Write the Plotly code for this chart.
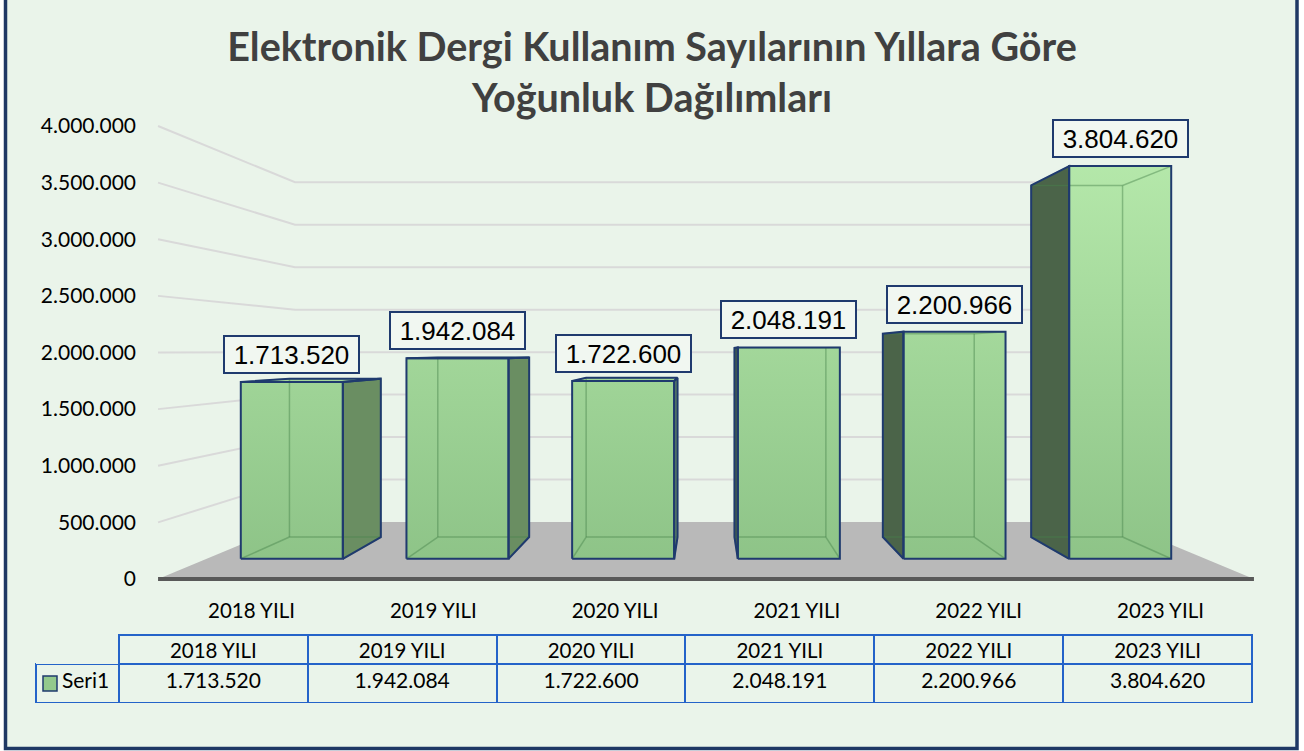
import plotly.graph_objects as go

# ---------------- data ----------------
title_lines = ["Elektronik Dergi Kullanım Sayılarının Yıllara Göre", "Yoğunluk Dağılımları"]
categories = ["2018 YILI", "2019 YILI", "2020 YILI", "2021 YILI", "2022 YILI", "2023 YILI"]
values = [1713520, 1942084, 1722600, 2048191, 2200966, 3804620]
y_ticks = [0, 500000, 1000000, 1500000, 2000000, 2500000, 3000000, 3500000, 4000000]
series_name = "Seri1"


def fmt(v):
    return f"{v:,}".replace(",", ".")


# ---------------- style / geometry ----------------
W, H = 1304, 751
BG = "#eaf4ea"
NAVY = "#1f3a6e"
TABLE_BLUE = "#2463c9"
GRID = "#d9d9d9"
FLOOR = "#b9b9b9"
FLOOR_EDGE = "#595959"
SIDE_RIGHT = "#6a8e62"
SIDE_LEFT = "#4b6449"
TOP_FACE = "#a4d69a"
HIDDEN = "rgba(70,130,75,0.45)"

CAT_PX = 181.8         # px per category on the front plane
CAT0_PX = 251.5        # px of first category
Y_PX_PER_UNIT = 113.25e-6
Y0_PX = 579.0

x_range = [(0 - CAT0_PX) / CAT_PX, (W - CAT0_PX) / CAT_PX]
y_range = [-(H - Y0_PX) / Y_PX_PER_UNIT, Y0_PX / Y_PX_PER_UNIT]

n = len(categories)
VX = (n - 1) / 2.0               # vanishing point (category units)
VY = (Y0_PX - 351.0) / Y_PX_PER_UNIT  # vanishing point (value units)
S_BAR_F, S_BAR_B, S_BACK = 0.9113, 0.816, 0.75
HALF_W = 0.308
EXT = 0.514


def proj(x, v, s):
    return VX + s * (x - VX), VY + s * (v - VY)


def poly(points):
    xs = [p[0] for p in points] + [points[0][0]]
    ys = [p[1] for p in points] + [points[0][1]]
    return xs, ys


fig = go.Figure()

# floor
fl = [proj(-EXT, 0, 1), proj(n - 1 + EXT, 0, 1), proj(n - 1 + EXT, 0, S_BACK), proj(-EXT, 0, S_BACK)]
xs, ys = poly(fl)
fig.add_trace(go.Scatter(x=xs, y=ys, mode="lines", fill="toself", fillcolor=FLOOR,
                         line=dict(width=0, color=FLOOR), hoverinfo="skip", showlegend=False))
a, b = proj(-EXT, 0, 1), proj(n - 1 + EXT, 0, 1)
fig.add_trace(go.Scatter(x=[a[0], b[0]], y=[a[1], b[1]], mode="lines",
                         line=dict(width=4, color=FLOOR_EDGE), hoverinfo="skip", showlegend=False))

# gridlines (side wall + back wall)
gx, gy = [], []
for v in y_ticks[1:]:
    for p in (proj(-EXT, v, 1), proj(-EXT, v, S_BACK), proj(n - 1 + EXT, v, S_BACK)):
        gx.append(p[0]); gy.append(p[1])
    gx.append(None); gy.append(None)
fig.add_trace(go.Scatter(x=gx, y=gy, mode="lines", line=dict(width=2, color=GRID),
                         hoverinfo="skip", showlegend=False))

# bars
annotations = []
for i, v in enumerate(values):
    xl, xr = i - HALF_W, i + HALF_W
    F = {k: proj(x, val, S_BAR_F) for k, (x, val) in
         {"lb": (xl, 0), "rb": (xr, 0), "rt": (xr, v), "lt": (xl, v)}.items()}
    B = {k: proj(x, val, S_BAR_B) for k, (x, val) in
         {"lb": (xl, 0), "rb": (xr, 0), "rt": (xr, v), "lt": (xl, v)}.items()}
    outlines = []
    # side face
    if i < VX:
        side = [F["rb"], B["rb"], B["rt"], F["rt"]]
        scol = SIDE_RIGHT
    else:
        side = [F["lb"], B["lb"], B["lt"], F["lt"]]
        scol = SIDE_LEFT
    xs, ys = poly(side)
    fig.add_trace(go.Scatter(x=xs, y=ys, mode="lines", fill="toself", fillcolor=scol,
                             line=dict(width=0, color=scol), hoverinfo="skip", showlegend=False))
    outlines.append(side)
    # top face (visible when below eye level)
    if v < VY:
        top = [F["lt"], F["rt"], B["rt"], B["lt"]]
        xs, ys = poly(top)
        fig.add_trace(go.Scatter(x=xs, y=ys, mode="lines", fill="toself", fillcolor=TOP_FACE,
                                 line=dict(width=0, color=TOP_FACE), hoverinfo="skip", showlegend=False))
        outlines.append(top)
    # front face
    front = [F["lb"], F["rb"], F["rt"], F["lt"]]
    xs, ys = poly(front)
    fig.add_trace(go.Scatter(x=xs, y=ys, mode="lines", fill="toself",
                             fillgradient=dict(type="vertical", start=0, stop=4000000,
                                               colorscale=[[0, "#8cc286"], [1, "#b8ebad"]]),
                             line=dict(width=0, color="#8cc286"), hoverinfo="skip", showlegend=False))
    outlines.append(front)
    # hidden edges seen through the glass-like front
    hx, hy = [], []
    for seg in [("lb", "rb"), ("rb", "rt"), ("rt", "lt"), ("lt", "lb")]:
        hx += [B[seg[0]][0], B[seg[1]][0], None]; hy += [B[seg[0]][1], B[seg[1]][1], None]
    for k in ("lb", "rb", "rt", "lt"):
        hx += [F[k][0], B[k][0], None]; hy += [F[k][1], B[k][1], None]
    fig.add_trace(go.Scatter(x=hx, y=hy, mode="lines", line=dict(width=1.5, color=HIDDEN),
                             hoverinfo="skip", showlegend=False))
    # visible outlines
    ox, oy = [], []
    for pl in outlines:
        xs, ys = poly(pl)
        ox += xs + [None]; oy += ys + [None]
    fig.add_trace(go.Scatter(x=ox, y=oy, mode="lines", line=dict(width=2, color=NAVY),
                             hoverinfo="skip", showlegend=False))
    # data label
    lx, ly = proj(i, v, S_BAR_F)
    annotations.append(dict(x=lx, y=ly, xref="x", yref="y", text=fmt(v), showarrow=False,
                            yanchor="bottom", xanchor="center", yshift=8,
                            font=dict(family="Liberation Sans, Arial", size=26, color="#000000"),
                            bgcolor="#f1f7f1", bordercolor=NAVY, borderwidth=2, borderpad=0,
                            width=133, height=35))

# data table
fig.add_trace(go.Table(
    domain=dict(x=[36 / W, 1252 / W], y=[1 - 703 / H, 1 - 635 / H]),
    columnwidth=[83] + [189] * n,
    header=dict(values=[""] + categories, height=29, fill_color=BG,
                line=dict(color=["rgba(0,0,0,0)"] + [TABLE_BLUE] * n, width=2),
                font=dict(family="Lato", size=20.5, color="#000000"), align="center"),
    cells=dict(values=[["\u00a0\u00a0\u00a0" + series_name]] + [[fmt(v)] for v in values], height=39,
               fill_color=BG, line=dict(color=TABLE_BLUE, width=2),
               font=dict(family="Lato", size=21, color="#000000"), align="center"),
))

shapes = [
    dict(type="rect", xref="paper", yref="paper", x0=5.5 / W, x1=1297 / W, y0=1 - 748.5 / H, y1=1.02,
         fillcolor=BG, line=dict(color="#1f3864", width=3.5), layer="below"),
    dict(type="rect", xref="paper", yref="paper", x0=43 / W, x1=57 / W, y0=1 - 691 / H, y1=1 - 676 / H,
         fillcolor="#93c98c", line=dict(color=NAVY, width=1.5), layer="above"),
]

fig.update_layout(
    width=W, height=H, autosize=False,
    margin=dict(l=0, r=0, t=0, b=0, pad=0),
    paper_bgcolor="#ffffff", plot_bgcolor="rgba(0,0,0,0)",
    showlegend=False,
    title=dict(text="<br>".join(title_lines), x=0.5, xanchor="center", y=1 - 61 / H, yanchor="middle",
               font=dict(family="Lato", size=39.5, color="#404040", weight="bold")),
    xaxis=dict(range=x_range, domain=[0, 1], anchor="free", position=1 - 596 / H,
               tickvals=list(range(n)), ticktext=categories, showgrid=False, zeroline=False,
               showline=False, ticks="", tickfont=dict(family="Lato", size=20.5, color="#000000")),
    yaxis=dict(range=y_range, domain=[0, 1], anchor="free", position=136 / W,
               tickvals=y_ticks, ticktext=[fmt(t) for t in y_ticks], showgrid=False, zeroline=False,
               showline=False, ticks="", tickfont=dict(family="Lato", size=21, color="#000000")),
    shapes=shapes,
    annotations=annotations,
)

fig.write_html("out.html", config={"displayModeBar": False},
               post_script="document.body.style.margin='0px';")
